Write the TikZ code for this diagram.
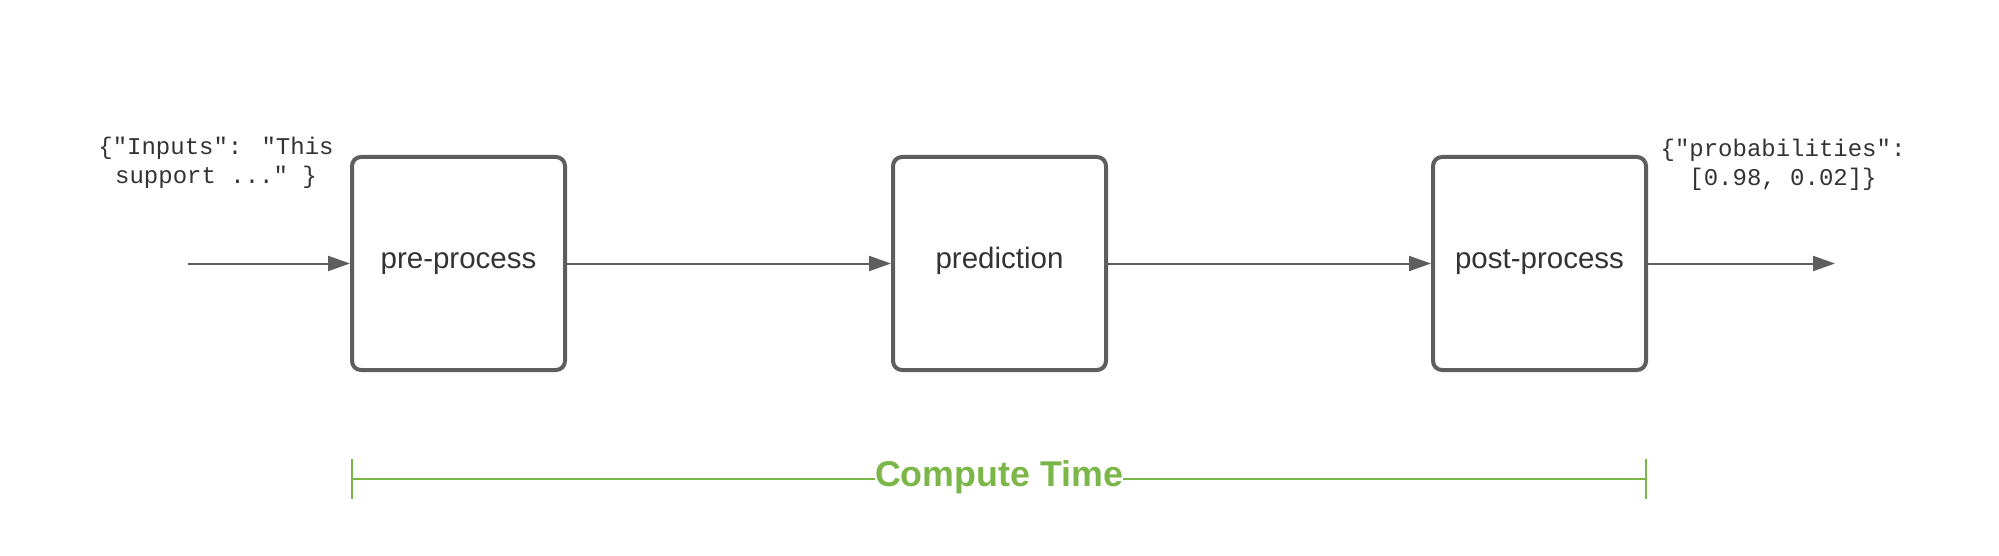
\documentclass[tikz,border=0pt]{standalone}
\usepackage{fontspec}
\setmainfont{Liberation Sans}
\newfontfamily\monof{Liberation Mono}
\usetikzlibrary{arrows.meta}
\definecolor{boxgray}{HTML}{5E5E5E}
\definecolor{txtgray}{HTML}{333333}
\definecolor{ctgreen}{HTML}{7AB648}
\tikzset{
  stagebox/.style={draw=boxgray, line width=4pt, rounded corners=9pt, minimum width=213pt, minimum height=213pt, inner sep=0pt, text=txtgray, font=\fontsize{29.5}{35}\selectfont, text height=20.5pt, text depth=11.5pt},
  flow/.style={draw=boxgray, line width=2pt, -{Triangle[length=22pt, width=15pt]}},
  jsontxt/.style={text=txtgray, font=\monof\fontsize{24}{28.5}\selectfont, align=center, inner sep=0pt},
  ctline/.style={draw=ctgreen, line width=2.6pt},
}
\begin{document}
\begin{tikzpicture}[x=1pt, y=-1pt]
\useasboundingbox (0,0) rectangle (1999,556);
\node[stagebox] (pre) at (458.5,263.5) {pre-process};
\node[stagebox] (pred) at (999.5,263.5) {prediction};
\node[stagebox] (post) at (1539.5,263.5) {post-process};
\coordinate (in) at (188,263.5);
\coordinate (out) at (1835,263.5);
\draw[flow] (in) -- (pre.west);
\draw[flow] (pre.east) -- (pred.west);
\draw[flow] (pred.east) -- (post.west);
\draw[flow] (post.east) -- (out);
\node[jsontxt] (intxt) at (216,163) {\{"Inputs": "This\\support ..." \}};
\node[jsontxt] (outtxt) at (1783,165) {\{"probabilities":\\\relax [0.98, 0.02]\}};
\coordinate (ctl) at (352,479);
\coordinate (ctr) at (1646,479);
\coordinate (ctlt) at (352,459);
\coordinate (ctlb) at (352,499);
\coordinate (ctrt) at (1646,459);
\coordinate (ctrb) at (1646,499);
\node[text=ctgreen, font=\bfseries\fontsize{35.8}{40}\selectfont, inner xsep=0pt, inner ysep=2pt, anchor=base] (ct) at (999,486) {Compute Time};
\draw[ctline] (ctl) -- (ct.west |- ctl);
\draw[ctline] (ct.east |- ctr) -- (ctr);
\draw[ctline] (ctlt) -- (ctlb);
\draw[ctline] (ctrt) -- (ctrb);
\end{tikzpicture}
\end{document}
